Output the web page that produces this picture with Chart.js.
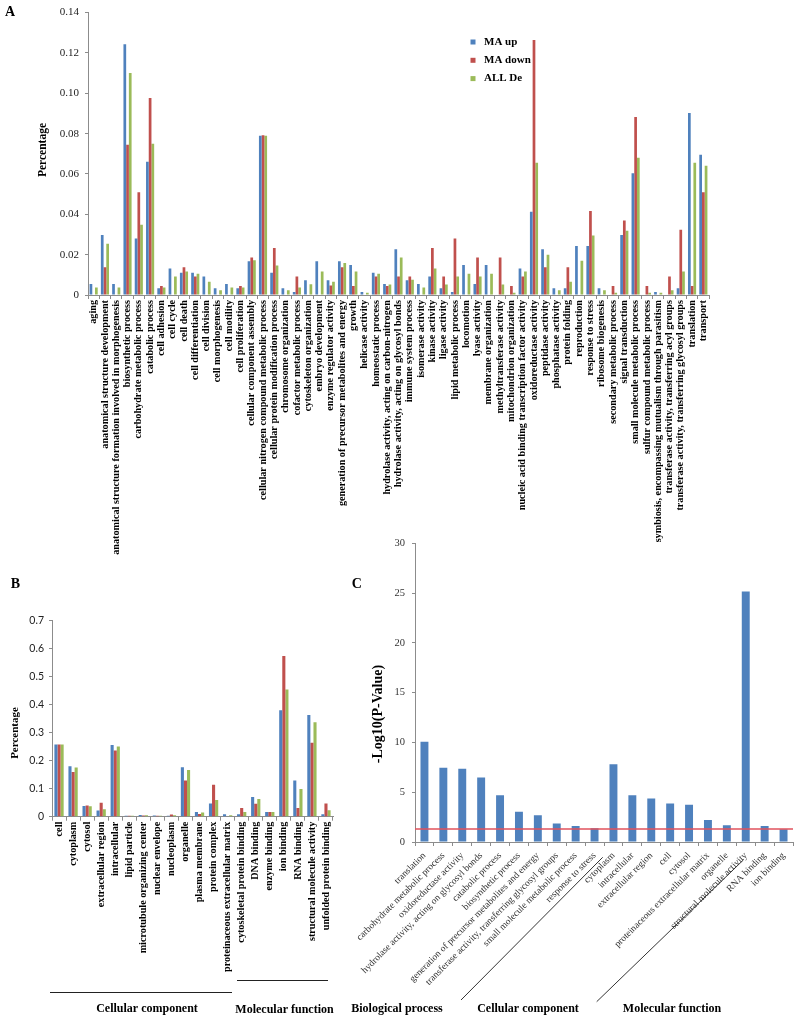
<!DOCTYPE html>
<html>
<head>
<meta charset="utf-8">
<script src="https://cdn.jsdelivr.net/npm/chart.js@4.4.0/dist/chart.umd.min.js"></script>
<style>
  body { margin: 0; background: #fff; }
  #wrap { position: relative; width: 797px; height: 1021px; overflow: hidden; background: #fff; }
  canvas { position: absolute; }
</style>
</head>
<body>
<div id="wrap">
  <canvas id="chart-a" width="797" height="560" style="left:0px;top:0px"></canvas>
  <canvas id="chart-b" width="345" height="491" style="left:0px;top:530px"></canvas>
  <canvas id="chart-c" width="467" height="491" style="left:330px;top:530px"></canvas>
</div>
<script>
// --- Data panel A (biological process, percentage) ---
const categoriesA = [
  'aging', 'anatomical structure development', 'anatomical structure formation involved in morphogenesis',
  'biosynthetic process', 'carbohydrate metabolic process', 'catabolic process', 'cell adhesion', 'cell cycle',
  'cell death', 'cell differentiation', 'cell division', 'cell morphogenesis', 'cell motility', 'cell proliferation',
  'cellular component assembly', 'cellular nitrogen compound metabolic process', 'cellular protein modification process',
  'chromosome organization', 'cofactor metabolic process', 'cytoskeleton organization', 'embryo development',
  'enzyme regulator activity', 'generation of precursor metabolites and energy', 'growth', 'helicase activity',
  'homeostatic process', 'hydrolase activity, acting on carbon-nitrogen', 'hydrolase activity, acting on glycosyl bonds',
  'immune system process', 'isomerase activity', 'kinase activity', 'ligase activity', 'lipid metabolic process',
  'locomotion', 'lyase activity', 'membrane organization', 'methyltransferase activity', 'mitochondrion organization',
  'nucleic acid binding transcription factor activity', 'oxidoreductase activity', 'peptidase activity',
  'phosphatase activity', 'protein folding', 'reproduction', 'response to stress', 'ribosome biogenesis',
  'secondary metabolic process', 'signal transduction', 'small molecule metabolic process',
  'sulfur compound metabolic process', 'symbiosis, encompassing mutualism through parasitism',
  'transferase activity, transferring acyl groups', 'transferase activity, transferring glycosyl groups',
  'translation', 'transport'
];
const maUpA = [
  0.0055, 0.0298, 0.0055, 0.1243, 0.028, 0.066, 0.0034, 0.0131, 0.011, 0.011, 0.0092, 0.0034, 0.0055, 0.0034,
  0.0167, 0.079, 0.011, 0.0034, 0.0015, 0.0073, 0.0167, 0.0073, 0.0167, 0.0149, 0.0015, 0.011, 0.0055, 0.0227,
  0.0073, 0.0055, 0.0092, 0.0034, 0.0015, 0.0149, 0.0055, 0.0149, 0, 0, 0.0131, 0.0413, 0.0227, 0.0034, 0.0034,
  0.0243, 0.0243, 0.0034, 0, 0.0298, 0.0603, 0, 0.0015, 0, 0.0034, 0.0902, 0.0695
];
const maDownA = [
  0, 0.0138, 0, 0.0745, 0.051, 0.0977, 0.0044, 0, 0.0138, 0.0092, 0, 0, 0, 0.0044,
  0.0186, 0.0792, 0.0233, 0, 0.0092, 0, 0, 0.0047, 0.0138, 0.0045, 0, 0.0092, 0.0045, 0.0092,
  0.0092, 0, 0.0233, 0.0092, 0.028, 0, 0.0186, 0, 0.0186, 0.0044, 0.0092, 0.1264, 0.0138, 0, 0.0138,
  0, 0.0416, 0, 0.0044, 0.0369, 0.0883, 0.0044, 0, 0.0092, 0.0324, 0.0044, 0.051
];
const allDeA = [
  0.0037, 0.0254, 0.0037, 0.110, 0.0348, 0.075, 0.0037, 0.0092, 0.0117, 0.0105, 0.0066, 0.0023, 0.0037, 0.0037,
  0.0172, 0.079, 0.0146, 0.0023, 0.0037, 0.0053, 0.0117, 0.0066, 0.0159, 0.0117, 0.0011, 0.0105, 0.0052, 0.0186,
  0.0076, 0.0037, 0.0131, 0.0052, 0.0092, 0.0105, 0.0092, 0.0105, 0.0052, 0.0011, 0.0117, 0.0656, 0.0199, 0.0023, 0.0066,
  0.017, 0.0295, 0.0023, 0.0011, 0.0319, 0.068, 0.0011, 0.0011, 0.0023, 0.0117, 0.0656, 0.0641
];

// --- Data panel B (cellular component + molecular function) ---
const categoriesB = [
  'cell', 'cytoplasm', 'cytosol', 'extracellular region', 'intracellular', 'lipid particle',
  'microtubule organizing center', 'nuclear envelope', 'nucleoplasm', 'organelle', 'plasma membrane',
  'protein complex', 'proteinaceous extracellular matrix', 'cytoskeletal protein binding', 'DNA binding',
  'enzyme binding', 'ion binding', 'RNA binding', 'structural molecule activity', 'unfolded protein binding'
];
const maUpB = [0.258, 0.18, 0.038, 0.022, 0.256, 0.003, 0.006, 0.004, 0.003, 0.177, 0.017, 0.047, 0.009, 0.009, 0.07, 0.017, 0.38, 0.129, 0.363, 0.009];
const maDownB = [0.258, 0.16, 0.04, 0.05, 0.236, 0.003, 0.004, 0.003, 0.008, 0.129, 0.01, 0.114, 0.002, 0.031, 0.046, 0.017, 0.574, 0.031, 0.264, 0.047];
const allDeB = [0.258, 0.176, 0.037, 0.027, 0.251, 0.003, 0.005, 0.003, 0.005, 0.167, 0.015, 0.06, 0.005, 0.017, 0.063, 0.017, 0.454, 0.099, 0.337, 0.023];

// --- Data panel C (enrichment, -log10 p) ---
const categoriesC = [
  'translation', 'carbohydrate metabolic process', 'oxidoreductase activity',
  'hydrolase activity, acting on glycosyl bonds', 'catabolic process', 'biosynthetic process',
  'generation of precursor metabolites and energy', 'transferase activity, transferring glycosyl groups',
  'small molecule metabolic process', 'response to stress', 'cytoplasm', 'intracellular',
  'extracellular region', 'cell', 'cytosol', 'proteinaceous extracellular matrix', 'organelle',
  'structural molecule activity', 'RNA binding', 'ion binding'
];
const logPC = [10.07, 7.45, 7.35, 6.47, 4.7, 3.04, 2.68, 1.86, 1.6, 1.37, 7.8, 4.7, 4.38, 3.86, 3.73, 2.22, 1.67, 25.16, 1.6, 1.27];
const THRESHOLD_C = 1.3; // -log10(0.05)

const SERIF = '"Liberation Serif", "Times New Roman", serif';
const SANS = 'Lato, "Liberation Sans", sans-serif';
const AXIS = '#8c8c8c';
const COLORS = { up: '#4F81BD', down: '#C0504D', all: '#9BBB59' };

Chart.defaults.font.family = SERIF;

// --- Helper gambar teks & garis ---
function textAt(ctx, str, x, y, font, opts = {}) {
  ctx.save();
  ctx.font = font;
  ctx.fillStyle = opts.color || '#000';
  ctx.textAlign = opts.align || 'center';
  ctx.textBaseline = 'middle';
  ctx.translate(x, y);
  if (opts.rot) ctx.rotate(opts.rot);
  ctx.fillText(str, 0, 0);
  ctx.restore();
}
function lineAt(ctx, x1, y1, x2, y2, color, width = 1) {
  ctx.save();
  ctx.strokeStyle = color;
  ctx.lineWidth = width;
  ctx.beginPath();
  ctx.moveTo(x1, y1);
  ctx.lineTo(x2, y2);
  ctx.stroke();
  ctx.restore();
}
function decor(id, fn) {
  return { id: id, afterDraw: chart => fn(chart.ctx, chart) };
}

function barSet(label, data, color, catPct, barPct) {
  return { label: label, data: data, backgroundColor: color, borderWidth: 0,
           categoryPercentage: catPct, barPercentage: barPct };
}

function xAxis(height, rot, font, color, pad) {
  return {
    grid: { drawOnChartArea: false, tickLength: 4, color: AXIS },
    border: { color: AXIS },
    ticks: { autoSkip: false, minRotation: rot, maxRotation: rot, padding: pad, color: color, font: font },
    afterFit: s => { s.height = height; }
  };
}
function yAxis(width, max, step, font, color, pad) {
  return {
    min: 0, max: max,
    grid: { drawOnChartArea: false, tickLength: 3, color: AXIS },
    border: { color: AXIS },
    ticks: { stepSize: step, padding: pad, color: color, font: font },
    afterFit: s => { s.width = width; }
  };
}

const baseOpts = {
  responsive: false,
  animation: false,
  plugins: { legend: { display: false }, tooltip: { enabled: false } }
};

// --- Panel A ---
new Chart(document.getElementById('chart-a'), {
  type: 'bar',
  data: {
    labels: categoriesA,
    datasets: [
      barSet('MA up', maUpA, COLORS.up, 0.72, 1),
      barSet('MA down', maDownA, COLORS.down, 0.72, 1),
      barSet('ALL De', allDeA, COLORS.all, 0.72, 1)
    ]
  },
  options: {
    ...baseOpts,
    layout: { padding: { top: 7, right: 88, left: 0, bottom: 0 } },
    scales: {
      x: xAxis(265, 90, { family: SERIF, size: 10.2, weight: 'bold' }, '#000', 1),
      y: yAxis(88, 0.14, 0.02, { family: SERIF, size: 11 }, '#222', 6)
    }
  },
  plugins: [decor('decorA', (ctx, chart) => {
    textAt(ctx, 'A', 10, 12, 'bold 14px ' + SERIF);
    textAt(ctx, 'Percentage', 43, 150, 'bold 11.5px ' + SERIF, { rot: -Math.PI / 2 });
    // legend
    chart.data.datasets.forEach((ds, i) => {
      const y = 42 + i * 18.3;
      ctx.fillStyle = ds.backgroundColor;
      ctx.fillRect(470.5, y - 2.5, 5, 5);
      textAt(ctx, ds.label, 484, y, 'bold 11px ' + SERIF, { align: 'left' });
    });
  })]
});

// --- Panel B ---
new Chart(document.getElementById('chart-b'), {
  type: 'bar',
  data: {
    labels: categoriesB,
    datasets: [
      barSet('MA up', maUpB, COLORS.up, 0.66, 1),
      barSet('MA down', maDownB, COLORS.down, 0.66, 1),
      barSet('ALL De', allDeB, COLORS.all, 0.66, 1)
    ]
  },
  options: {
    ...baseOpts,
    layout: { padding: { top: 90.7, right: 12, left: 0, bottom: 0 } },
    scales: {
      x: xAxis(204.3, 90, { family: SERIF, size: 10.2, weight: 'bold' }, '#000', 1),
      y: yAxis(52, 0.7, 0.1, { family: SANS, size: 10.5 }, '#222', 5)
    }
  },
  plugins: [decor('decorB', (ctx) => {
    textAt(ctx, 'B', 15.5, 54, 'bold 14px ' + SERIF);
    textAt(ctx, 'Percentage', 15, 203, 'bold 11px ' + SERIF, { rot: -Math.PI / 2 });
    lineAt(ctx, 50, 462.5, 232, 462.5, '#222');
    lineAt(ctx, 237, 450.5, 328, 450.5, '#222');
    textAt(ctx, 'Cellular component', 147, 479, 'bold 12px ' + SERIF);
    textAt(ctx, 'Molecular function', 284.5, 480, 'bold 12px ' + SERIF);
  })]
});

// --- Panel C ---
new Chart(document.getElementById('chart-c'), {
  type: 'bar',
  data: {
    labels: categoriesC,
    datasets: [barSet('-Log10(P-Value)', logPC, COLORS.up, 0.42, 1)]
  },
  options: {
    ...baseOpts,
    layout: { padding: { top: 6, right: 4, left: 0, bottom: 0 } },
    scales: {
      x: xAxis(179, 45, { family: SERIF, size: 9.5 }, '#333', 4),
      y: yAxis(85, 30, 5, { family: SERIF, size: 10.5 }, '#333', 7)
    }
  },
  plugins: [decor('decorC', (ctx, chart) => {
    const area = chart.chartArea;
    const yLine = chart.scales.y.getPixelForValue(THRESHOLD_C);
    lineAt(ctx, area.left, yLine, area.right, yLine, '#E0525C', 1.5);
    textAt(ctx, 'C', 26.7, 54, 'bold 14px ' + SERIF);
    textAt(ctx, '-Log10(P-Value)', 48, 184, 'bold 14px ' + SERIF, { rot: -Math.PI / 2 });
    lineAt(ctx, 272.7, 327.3, 131, 470, '#333');
    lineAt(ctx, 413.3, 330, 266.7, 471.7, '#333');
    textAt(ctx, 'Biological process', 67, 479, 'bold 12px ' + SERIF);
    textAt(ctx, 'Cellular component', 198, 479, 'bold 12px ' + SERIF);
    textAt(ctx, 'Molecular function', 342, 479, 'bold 12px ' + SERIF);
  })]
});
</script>
</body>
</html>
